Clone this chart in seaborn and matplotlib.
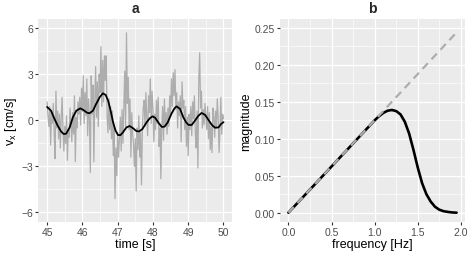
import numpy as np
import pandas as pd
import seaborn as sns
import matplotlib
matplotlib.use('Agg')
import matplotlib.pyplot as plt
from matplotlib.ticker import MultipleLocator, FormatStrFormatter

##################### data

# panel a: measured velocity, sampled every 0.025 s from 45 to 50 s
vx_noisy = [
    1.2, 0.3, -0.4, 0.9, -1.6, 0.5, -0.2, 1.1, -0.9, -2.5,
    1.9, -0.5, 0.6, -1.2, 0.4, -1.8, 0.2, 1.5, -0.7, -2.0,
    -0.4, -1.5, 0.3, -2.6, -0.6, -1.1, 0.8, -0.2, -1.4, 0.5,
    -0.9, 1.6, -2.7, 0.2, -0.5, 1.2, 0.4, 1.5, -0.3, 2.1,
    0.6, 2.9, -0.2, 1.8, 0.3, 2.7, -1.0, 1.4, 0.1, -3.4,
    2.9, 0.4, 2.3, -2.7, 1.2, 3.5, 0.2, 2.5, -0.4, 3.0,
    1.8, 4.8, 0.9, 3.9, 1.2, 4.2, 2.6, 4.2, 0.3, -0.8,
    1.4, -0.6, 0.9, -1.2, 0.6, -2.3, -0.4, -5.1, -1.8, -3.6,
    -0.8, -2.4, -1.2, 0.2, -2.0, 0.7, -1.5, 0.9, 3.2, -0.4,
    5.7, 1.1, 2.8, -0.6, 1.4, -2.4, 0.5, -0.9, -1.6, -3.0,
    -1.2, -4.6, -0.5, -1.9, 0.3, -2.4, -0.8, -4.2, -0.6, 0.8,
    1.3, -0.4, 1.8, 0.2, -1.0, 1.6, 0.5, 2.7, -0.2, 1.9,
    0.8, -1.4, 0.4, -0.6, 1.3, -0.2, 1.5, -1.7, -0.5, -3.8,
    -0.4, 0.9, -1.3, 1.4, -0.3, 0.5, -0.9, 0.8, -0.4, 1.6,
    0.4, 2.7, 0.9, 3.1, 1.6, 3.3, 0.7, 1.8, -0.5, 1.2,
    0.3, 1.6, -1.4, 2.5, 0.8, 1.3, -0.6, 0.9, -1.7, 0.2,
    -2.3, 0.4, -0.6, 0.9, -1.0, 1.2, 0.1, 1.6, -0.8, -1.8,
    0.6, -3.1, 2.7, 4.4, 0.8, 1.9, -0.5, 0.7, -0.3, 1.1,
    0.3, -0.6, 0.9, -1.2, 0.5, -1.9, -0.4, -2.1, 0.8, 0.2,
    -1.1, 0.6, -0.5, 1.4, 0.2, -2.1, -0.6, 1.5, -0.9, 0.4,
    0.1,
]
time_noisy = np.linspace(45, 50, len(vx_noisy))

# panel a: filtered signal
time_smooth = [45.0, 45.11, 45.21, 45.30, 45.40, 45.47, 45.54, 45.64, 45.73, 45.83,
               45.94, 46.03, 46.13, 46.20, 46.30, 46.39, 46.49, 46.58, 46.66, 46.73,
               46.80, 46.87, 46.94, 47.01, 47.08, 47.15, 47.25, 47.34, 47.44, 47.53,
               47.61, 47.70, 47.82, 47.91, 47.99, 48.06, 48.16, 48.25, 48.33, 48.42,
               48.52, 48.61, 48.67, 48.77, 48.86, 48.94, 49.01, 49.10, 49.19, 49.29,
               49.38, 49.48, 49.57, 49.67, 49.76, 49.86, 49.93, 50.0]
vx_smooth = [0.87, 0.63, 0.09, -0.35, -0.74, -0.89, -0.87, -0.46, 0.20, 0.63,
             0.78, 0.67, 0.50, 0.46, 0.63, 1.07, 1.50, 1.76, 1.65, 1.28,
             0.63, -0.13, -0.67, -0.96, -0.96, -0.78, -0.46, -0.37, -0.52, -0.70,
             -0.72, -0.57, -0.13, 0.13, 0.26, 0.17, -0.17, -0.43, -0.41, -0.13,
             0.41, 0.78, 0.91, 0.74, 0.20, -0.13, -0.30, -0.30, -0.02, 0.30,
             0.48, 0.35, 0.04, -0.30, -0.48, -0.46, -0.24, -0.12]

# panel b: filter magnitude response and the ideal differentiator
freq = [0.0, 0.1, 0.2, 0.3, 0.4, 0.5, 0.6, 0.7, 0.8, 0.9, 1.0,
        1.05, 1.1, 1.15, 1.2, 1.25, 1.3, 1.35, 1.4, 1.45, 1.5,
        1.55, 1.6, 1.65, 1.7, 1.75, 1.8, 1.85, 1.9, 1.95]
magnitude = [0.0, 0.0125, 0.025, 0.0375, 0.05, 0.0625, 0.075, 0.0875, 0.1, 0.1125, 0.125,
             0.1305, 0.135, 0.138, 0.139, 0.1375, 0.133, 0.123, 0.107, 0.085, 0.061,
             0.040, 0.025, 0.015, 0.008, 0.004, 0.002, 0.001, 0.0003, 0.0]
freq_ideal = [0.0, 1.95]
mag_ideal = [0.0, 0.244]

##################### ggplot-ish look

sns.set_theme(style='darkgrid', rc={
    'axes.facecolor': '#EBEBEB',
    'grid.color': 'white',
    'xtick.color': '#333333',
    'ytick.color': '#333333',
    'xtick.labelcolor': '#4D4D4D',
    'ytick.labelcolor': '#4D4D4D',
    'xtick.major.size': 2.0,
    'ytick.major.size': 2.0,
    'xtick.major.width': 0.8,
    'ytick.major.width': 0.8,
    'xtick.major.pad': 1.5,
    'ytick.major.pad': 1.5,
    'xtick.bottom': True,
    'ytick.left': True,
    'axes.labelcolor': 'black',
})
plt.rcParams['font.family'] = ['Liberation Sans', 'DejaVu Sans']
plt.rcParams['mathtext.fontset'] = 'custom'
plt.rcParams['mathtext.rm'] = 'Liberation Sans'

fig = plt.figure(figsize=(4.74, 2.55), dpi=100)
ax_a = fig.add_axes([0.0808, 0.1267, 0.4093, 0.795])
ax_b = fig.add_axes([0.5907, 0.1267, 0.3903, 0.795])

# panel a
sns.lineplot(x=time_noisy, y=vx_noisy, ax=ax_a, color='#ADADAD', lw=0.9, estimator=None)
sns.lineplot(x=time_smooth, y=vx_smooth, ax=ax_a, color='black', lw=1.3, estimator=None)
ax_a.set_xlim(44.75, 50.25)
ax_a.set_ylim(-6.6, 6.6)
ax_a.xaxis.set_major_locator(MultipleLocator(1))
ax_a.xaxis.set_minor_locator(MultipleLocator(0.5))
ax_a.yaxis.set_major_locator(MultipleLocator(3))
ax_a.yaxis.set_minor_locator(MultipleLocator(1.5))
ax_a.set_xlabel('time [s]', fontsize=9, labelpad=1)
ax_a.set_ylabel(r'v$_\mathrm{x}$ [cm/s]', fontsize=9, labelpad=2)
ax_a.set_title('a', fontsize=10, fontweight='bold', pad=5)

# panel b: black response under the dashed gray reference line
sns.lineplot(x=freq, y=magnitude, ax=ax_b, color='black', lw=1.9, estimator=None)
sns.lineplot(x=freq_ideal, y=mag_ideal, ax=ax_b, color='#ADADAD', lw=1.6, estimator=None)
ax_b.lines[-1].set_dashes((3.5, 2.4))
ax_b.set_xlim(-0.0975, 2.0475)
ax_b.set_ylim(-0.0122, 0.2622)
ax_b.xaxis.set_major_locator(MultipleLocator(0.5))
ax_b.xaxis.set_minor_locator(MultipleLocator(0.25))
ax_b.yaxis.set_major_locator(MultipleLocator(0.05))
ax_b.yaxis.set_minor_locator(MultipleLocator(0.025))
ax_b.xaxis.set_major_formatter(FormatStrFormatter('%.1f'))
ax_b.yaxis.set_major_formatter(FormatStrFormatter('%.2f'))
ax_b.set_xlabel('frequency [Hz]', fontsize=9, labelpad=1)
ax_b.set_ylabel('magnitude', fontsize=9, labelpad=2)
ax_b.set_title('b', fontsize=10, fontweight='bold', pad=5)

for ax in (ax_a, ax_b):
    ax.grid(which='major', color='white', lw=0.9)
    ax.grid(which='minor', color='white', lw=0.45)
    ax.tick_params(which='minor', length=0)
    ax.tick_params(which='major', labelsize=7.5)
    for s in ax.spines.values():
        s.set_visible(False)

fig.savefig('out.png', dpi=100)
